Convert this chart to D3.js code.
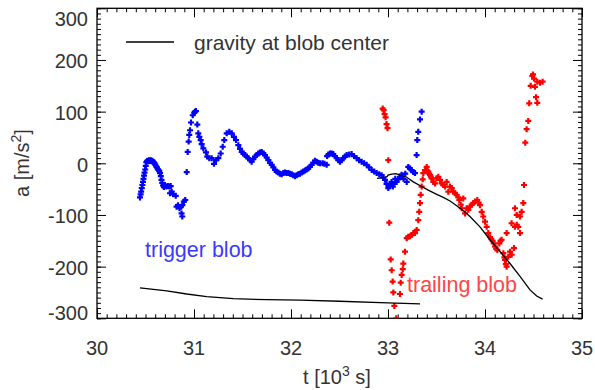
<!DOCTYPE html>
<html>
<head>
<meta charset="utf-8">
<script src="https://cdn.jsdelivr.net/npm/d3@7"></script>
<style>
  body { margin: 0; background: #fff; }
  svg { font-family: "Liberation Sans", Arial, Helvetica, sans-serif; }
</style>
</head>
<body>
<svg id="chart" width="595" height="390"></svg>
<script>
// trigger blob acceleration [t (10^3 s), a (m/s^2)]
const triggerBlob = [
  [30.443,-66],[30.450,-60],[30.455,-55],[30.462,-48],[30.468,-42],[30.474,-36],[30.479,-30],[30.485,-24],
  [30.490,-18],[30.497,-12],[30.503,-5],[30.508,2],[30.515,4],[30.522,5],[30.530,4],[30.538,6],[30.546,5],
  [30.554,6],[30.562,4],[30.570,5],[30.578,3],[30.586,2],[30.594,0],[30.602,-3],[30.610,-6],[30.618,-8],
  [30.626,-11],[30.634,-13],[30.642,-15],[30.650,-19],[30.658,-25],[30.665,-32],[30.672,-38],[30.680,-43],
  [30.690,-46],[30.700,-42],[30.715,-45],[30.730,-44],[30.745,-45],[30.760,-44],[30.753,-58],[30.770,-55],
  [30.785,-60],[30.812,-63],[30.820,-84],[30.835,-81],[30.850,-87],[30.865,-84],[30.880,-81],[30.895,-74],
  [30.910,-71],[30.879,-103],[30.872,-97],[30.925,-17],[30.935,22],[30.945,42],[30.951,55],[30.959,64],
  [30.969,79],[30.987,93],[31.003,98],[31.010,100],[31.020,101],[31.034,75],[31.044,58],[31.055,51],
  [31.069,45],[31.079,37],[31.096,29],[31.124,21],[31.137,13],[31.158,10],[31.182,10],[31.206,-1],
  [31.227,6],[31.251,10],[31.275,19],[31.296,32],[31.312,45],[31.337,58],[31.364,61],[31.389,58],
  [31.412,51],[31.433,45],[31.457,35],[31.475,28],[31.492,22],[31.510,19],[31.526,16],[31.543,13],
  [31.560,10],[31.578,6],[31.595,3],[31.612,8],[31.629,13],[31.646,16],[31.663,19],[31.680,21],[31.698,22],
  [31.715,19],[31.732,16],[31.750,11],[31.766,6],[31.784,1],[31.801,-3],[31.818,-8],[31.835,-13],
  [31.852,-16],[31.869,-18],[31.886,-20],[31.904,-21],[31.921,-19],[31.938,-18],[31.955,-19],[31.972,-19],
  [31.990,-20],[32.007,-21],[32.024,-23],[32.041,-25],[32.058,-23],[32.075,-21],[32.092,-20],[32.110,-18],
  [32.127,-16],[32.144,-14],[32.161,-12],[32.178,-10],[32.195,-7],[32.212,-3],[32.230,1],[32.247,5],
  [32.264,3],[32.281,1],[32.300,0],[32.326,0],[32.345,-1],[32.368,-3],[32.372,14],[32.385,17],[32.402,19],
  [32.420,19],[32.436,18],[32.453,14],[32.471,10],[32.488,6],[32.505,3],[32.522,6],[32.539,10],[32.556,13],
  [32.574,16],[32.600,17],[32.625,18],[32.650,14],[32.677,10],[32.702,6],[32.728,3],[32.754,0],[32.780,-3],
  [32.806,-8],[32.832,-13],[32.858,-16],[32.883,-19],[32.910,-21],[32.934,-23],[32.952,-28],[32.969,-32],
  [32.985,-40],[33.003,-48],[33.020,-42],[33.037,-36],[33.050,-45],[33.063,-40],[33.075,-30],[33.089,-36],
  [33.105,-31],[33.124,-26],[33.140,-22],[33.160,-30],[33.178,-20],[33.193,-36],[33.209,-7],[33.225,-10],
  [33.243,-13],[33.260,-17],[33.278,-19],[33.295,16],[33.302,45],[33.312,61],[33.330,85],[33.347,100]
];

// trailing blob acceleration
const trailingBlob = [
  [32.945,106],[32.955,103],[32.965,95],[32.975,89],[32.985,76],[32.995,68],[33.003,6],[33.013,-115],
  [33.028,-186],[33.038,-207],[33.048,-229],[33.055,-250],[33.065,-276],[33.085,-300],[33.100,-312],
  [33.124,-253],[33.131,-231],[33.141,-216],[33.152,-205],[33.158,-194],[33.175,-171],[33.193,-145],
  [33.209,-142],[33.227,-141],[33.244,-139],[33.261,-135],[33.278,-135],[33.296,-129],[33.312,-110],
  [33.322,-94],[33.330,-77],[33.337,-61],[33.347,-45],[33.358,-31],[33.364,-19],[33.381,-13],[33.399,-7],
  [33.405,-14],[33.415,-16],[33.425,-20],[33.433,-23],[33.442,-26],[33.450,-29],[33.467,-36],[33.485,-39],
  [33.502,-29],[33.519,-26],[33.536,-32],[33.553,-39],[33.570,-42],[33.588,-45],[33.605,-36],[33.622,-55],
  [33.639,-45],[33.657,-48],[33.673,-55],[33.691,-58],[33.708,-61],[33.725,-66],[33.735,-71],[33.750,-80],
  [33.760,-87],[33.776,-68],[33.794,-97],[33.811,-87],[33.828,-90],[33.845,-84],[33.863,-80],[33.880,-77],
  [33.897,-74],[33.921,-71],[33.935,-76],[33.948,-81],[33.966,-94],[33.982,-103],[34.000,-113],[34.017,-123],
  [34.034,-135],[34.052,-143],[34.065,-147],[34.079,-150],[34.090,-155],[34.103,-161],[34.115,-165],
  [34.127,-168],[34.148,-155],[34.160,-150],[34.171,-148],[34.189,-174],[34.200,-182],[34.206,-187],
  [34.215,-195],[34.223,-200],[34.240,-181],[34.258,-171],[34.275,-177],[34.299,-164],[34.223,-135],
  [34.274,-116],[34.309,-123],[34.327,-119],[34.343,-123],[34.361,-135],[34.309,-87],[34.327,-100],
  [34.361,-103],[34.378,-94],[34.395,-77],[34.402,-42],[34.415,40],[34.429,66],[34.446,82],[34.456,116],
  [34.471,150],[34.487,169],[34.495,172],[34.505,164],[34.515,148],[34.526,128],[34.539,117],[34.539,158],
  [34.567,156],[34.594,158]
];

// gravity at blob center
const gravityTrigger = [
  [30.443,-241],[30.719,-247],[30.925,-253],[31.131,-258],[31.405,-262],[31.749,-264],[32.093,-265],
  [32.500,-267],[33.000,-270],[33.330,-272]
];
const gravityTrailing = [
  [32.887,-29],[32.970,-27],[32.990,-26],[33.000,-23],[33.040,-21],[33.080,-20],[33.124,-23],[33.193,-27],
  [33.261,-36],[33.347,-45],[33.415,-52],[33.502,-60],[33.570,-66],[33.640,-73],[33.708,-82],[33.776,-92],
  [33.845,-103],[33.948,-123],[34.052,-148],[34.155,-171],[34.258,-194],[34.361,-219],[34.464,-245],
  [34.533,-257],[34.594,-263]
];

const xTicks = [30, 31, 32, 33, 34, 35];
const yTicks = [-300, -200, -100, 0, 100, 200, 300];

const svg = d3.select("#chart");
const pLeft = 97, pRight = 582, pTop = 8.3, pBottom = 318.3;

const x = d3.scaleLinear().domain([30, 35]).range([pLeft, pRight]);
const y = d3.scaleLinear().domain([-300, 300]).range([pBottom, pTop]);

svg.append("defs").append("clipPath").attr("id", "clip")
  .append("rect").attr("x", pLeft).attr("y", pTop)
  .attr("width", pRight - pLeft).attr("height", pBottom - pTop);

const textColor = "#333";

// axes: major + minor ticks on all four sides
const xMinor = d3.range(30, 35.001, 0.1);
const yMinor = d3.range(-300, 300.001, 10);

svg.append("g").attr("transform", `translate(0,${pBottom})`)
  .call(d3.axisBottom(x).tickValues(xMinor).tickSize(-4).tickFormat(""));
svg.append("g").attr("transform", `translate(0,${pBottom})`)
  .call(d3.axisBottom(x).tickValues(xTicks).tickSize(-9).tickFormat(""));
svg.append("g").attr("transform", `translate(0,${pTop})`)
  .call(d3.axisTop(x).tickValues(xMinor).tickSize(-4).tickFormat(""));
svg.append("g").attr("transform", `translate(0,${pTop})`)
  .call(d3.axisTop(x).tickValues(xTicks).tickSize(-9).tickFormat(""));
svg.append("g").attr("transform", `translate(${pLeft},0)`)
  .call(d3.axisLeft(y).tickValues(yMinor).tickSize(-4).tickFormat(""));
svg.append("g").attr("transform", `translate(${pLeft},0)`)
  .call(d3.axisLeft(y).tickValues(yTicks).tickSize(-9).tickFormat(""));
svg.append("g").attr("transform", `translate(${pRight},0)`)
  .call(d3.axisRight(y).tickValues(yMinor).tickSize(-4).tickFormat(""));
svg.append("g").attr("transform", `translate(${pRight},0)`)
  .call(d3.axisRight(y).tickValues(yTicks).tickSize(-9).tickFormat(""));

svg.selectAll(".domain").remove();
svg.selectAll(".tick line").attr("stroke", "#000").attr("stroke-width", 1);

svg.append("rect")
  .attr("x", pLeft).attr("y", pTop)
  .attr("width", pRight - pLeft).attr("height", pBottom - pTop)
  .attr("fill", "none").attr("stroke", "#000").attr("stroke-width", 1.3);

// tick labels (the end labels sit inside the frame, as in the original)
svg.append("g").selectAll("text").data(xTicks).enter().append("text")
  .attr("x", d => x(d)).attr("y", 355)
  .attr("text-anchor", "middle")
  .attr("fill", textColor).style("font-size", "20px")
  .text(d => d);

svg.append("g").selectAll("text").data(yTicks).enter().append("text")
  .attr("x", 88)
  .attr("y", d => d === 300 ? 26 : d === -300 ? 320 : y(d) + 8.3)
  .attr("text-anchor", "end")
  .attr("fill", textColor).style("font-size", "20px")
  .text(d => d);

// axis titles
const xt = svg.append("text").attr("x", 337).attr("y", 384)
  .attr("text-anchor", "middle").attr("fill", textColor).style("font-size", "20px");
xt.append("tspan").text("t [10");
xt.append("tspan").attr("dy", -8).style("font-size", "14px").text("3");
xt.append("tspan").attr("dy", 8).text(" s]");

const yt = svg.append("text").attr("transform", "translate(29,163) rotate(-90)")
  .attr("text-anchor", "middle").attr("fill", textColor).style("font-size", "20px");
yt.append("tspan").text("a [m/s");
yt.append("tspan").attr("dy", -8).style("font-size", "14px").text("2");
yt.append("tspan").attr("dy", 8).text("]");

// data
const plot = svg.append("g").attr("clip-path", "url(#clip)");
const line = d3.line().x(d => x(d[0])).y(d => y(d[1]));

const plus = "M-3,0H3M0,-3V3";

plot.append("g").selectAll("path").data(triggerBlob).enter().append("path")
  .attr("d", plus)
  .attr("transform", d => `translate(${x(d[0])},${y(d[1])})`)
  .attr("stroke", "#0000ff").attr("stroke-width", 2.2);

plot.append("g").selectAll("path").data(trailingBlob).enter().append("path")
  .attr("d", plus)
  .attr("transform", d => `translate(${x(d[0])},${y(d[1])})`)
  .attr("stroke", "#ff0000").attr("stroke-width", 2.2);

[gravityTrigger, gravityTrailing].forEach(g => {
  plot.append("path").datum(g)
    .attr("d", line)
    .attr("fill", "none").attr("stroke", "#000").attr("stroke-width", 1.3);
});

// legend and labels
svg.append("line").attr("x1", 126).attr("x2", 174).attr("y1", 42).attr("y2", 42)
  .attr("stroke", "#000").attr("stroke-width", 1.3);
svg.append("text").attr("x", 194).attr("y", 50)
  .attr("fill", textColor).style("font-size", "21px")
  .text("gravity at blob center");

svg.append("text").attr("x", 145).attr("y", 257)
  .attr("fill", "#3a3aff").style("font-size", "21.5px")
  .text("trigger blob");
svg.append("text").attr("x", 407).attr("y", 292)
  .attr("fill", "#ff4545").style("font-size", "21.5px")
  .text("trailing blob");
</script>
</body>
</html>
